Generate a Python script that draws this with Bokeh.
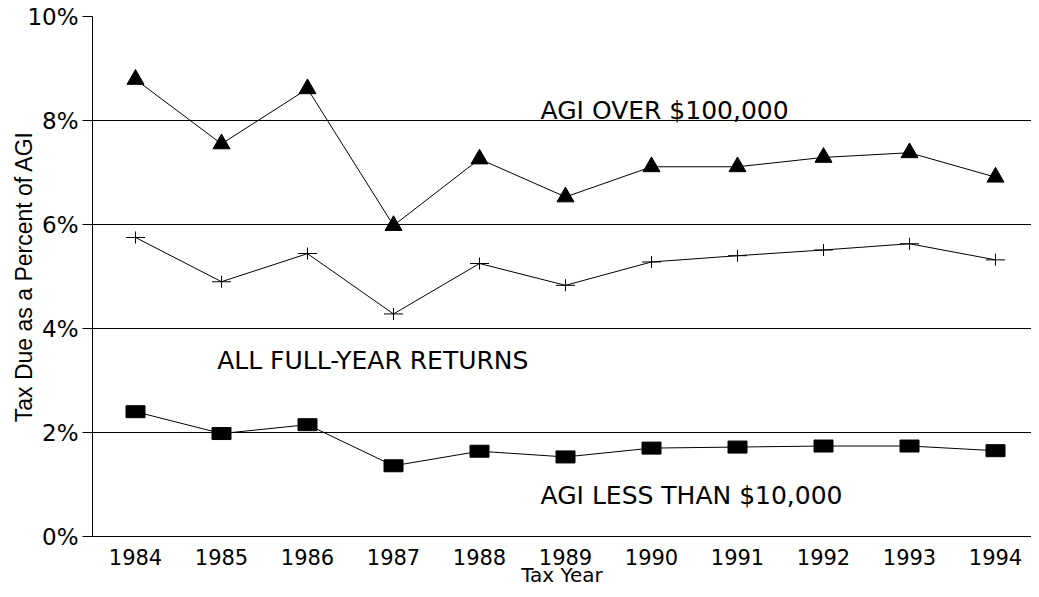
from bokeh.plotting import figure
from bokeh.models import Range1d, FixedTicker, Label
from bokeh.embed import file_html
from bokeh.resources import INLINE

years = [1984, 1985, 1986, 1987, 1988, 1989, 1990, 1991, 1992, 1993, 1994]
agi_over_100k = [8.79, 7.55, 8.61, 5.98, 7.26, 6.53, 7.11, 7.11, 7.29, 7.38, 6.91]
all_returns = [5.75, 4.90, 5.44, 4.28, 5.25, 4.83, 5.28, 5.40, 5.51, 5.63, 5.32]
agi_under_10k = [2.40, 1.98, 2.15, 1.36, 1.64, 1.53, 1.70, 1.72, 1.74, 1.74, 1.65]
y_ticks = [0, 2, 4, 6, 8, 10]
y_tick_labels = ["0%", "2%", "4%", "6%", "8%", "10%"]
x_tick_labels = [str(y) for y in years]

FONT = "DejaVu Sans"

p = figure(width=1031, height=589, output_backend="svg", toolbar_location=None,
           x_range=Range1d(years[0] - 0.5, years[0] - 0.5 + 939 / 86),
           y_range=Range1d(0, 10),
           min_border_left=92, min_border_right=0, min_border_top=16, min_border_bottom=53)
p.outline_line_color = None
p.background_fill_color = "white"
p.border_fill_color = "white"

# grid
p.xgrid.grid_line_color = None
p.ygrid.grid_line_color = "black"
p.ygrid.grid_line_width = 1
p.ygrid.ticker = FixedTicker(ticks=y_ticks)

# y axis
p.yaxis.ticker = FixedTicker(ticks=y_ticks)
p.yaxis.major_label_overrides = {t: l for t, l in zip(y_ticks, y_tick_labels)}
p.yaxis.minor_tick_line_color = None
p.yaxis.major_tick_in = 0
p.yaxis.major_tick_out = 10
p.yaxis.major_tick_line_color = "black"
p.yaxis.axis_line_color = "black"
p.yaxis.major_label_standoff = 4
p.yaxis.major_label_text_font = FONT
p.yaxis.major_label_text_font_size = "23px"
p.yaxis.major_label_text_color = "black"
p.yaxis.axis_label = "Tax Due as a Percent of AGI"
p.yaxis.axis_label_text_font = "Liberation Sans"
p.yaxis.axis_label_text_font_size = "23px"
p.yaxis.axis_label_text_font_style = "normal"
p.yaxis.axis_label_text_color = "black"
p.yaxis.axis_label_standoff = -13

# x axis
p.xaxis.ticker = FixedTicker(ticks=years)
p.xaxis.major_label_overrides = {y: l for y, l in zip(years, x_tick_labels)}
p.xaxis.minor_tick_line_color = None
p.xaxis.major_tick_in = 0
p.xaxis.major_tick_out = 0
p.xaxis.axis_line_color = "black"
p.xaxis.major_label_standoff = 12
p.xaxis.major_label_text_font = FONT
p.xaxis.major_label_text_font_size = "21px"
p.xaxis.major_label_text_color = "black"
p.xaxis.axis_label = "Tax Year"
p.xaxis.axis_label_text_font = FONT
p.xaxis.axis_label_text_font_size = "20px"
p.xaxis.axis_label_text_font_style = "normal"
p.xaxis.axis_label_text_color = "black"
p.xaxis.axis_label_standoff = -5

# series
p.line(years, agi_over_100k, line_color="black", line_width=1)
p.scatter(years, agi_over_100k, marker="triangle", size=17, fill_color="black", line_color="black")

p.line(years, all_returns, line_color="black", line_width=1)
p.rect(years, all_returns, width=19, height=1, width_units="screen", height_units="screen",
       fill_color="black", line_color=None)
p.rect(years, all_returns, width=1, height=12, width_units="screen", height_units="screen",
       fill_color="black", line_color=None)

p.line(years, agi_under_10k, line_color="black", line_width=1)
p.rect(years, agi_under_10k, width=19, height=12, width_units="screen", height_units="screen",
       fill_color="black", line_color="black")

# annotations
for txt, x, y in [("AGI  OVER $100,000", 1988.71, 8.19),
                  ("ALL FULL-YEAR RETURNS", 1984.95, 3.385),
                  ("AGI LESS THAN $10,000", 1988.71, 0.79)]:
    p.add_layout(Label(x=x, y=y, text=txt, text_font=FONT, text_font_size="25px",
                       text_color="black", text_align="left", text_baseline="alphabetic"))

open("out.html", "w").write(file_html(p, INLINE))
